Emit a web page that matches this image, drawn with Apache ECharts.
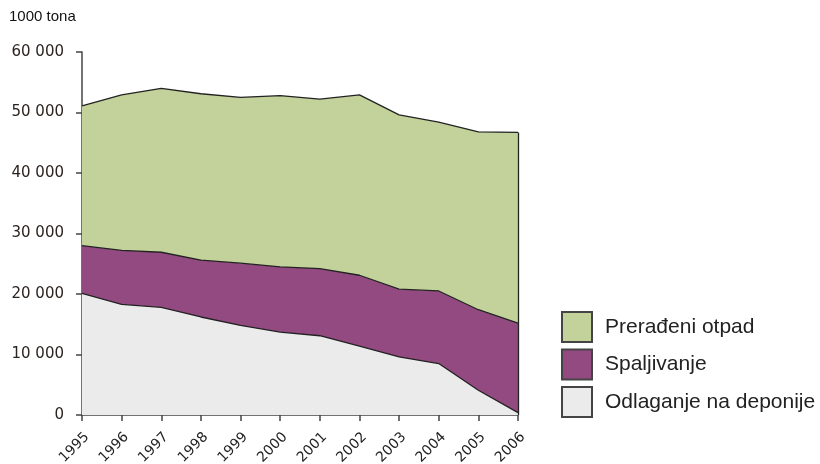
<!DOCTYPE html>
<html>
<head>
<meta charset="utf-8">
<script src="https://cdn.jsdelivr.net/npm/echarts@6/dist/echarts.min.js"></script>
<style>
  html, body { margin: 0; padding: 0; background: #fff; }
  #main { width: 820px; height: 464px; }
</style>
</head>
<body>
<div id="main"></div>
<script>
// godine i vrijednosti (1000 tona), ocitano sa slike
var years = ['1995', '1996', '1997', '1998', '1999', '2000', '2001', '2002', '2003', '2004', '2005', '2006'];
var odlaganje = [20100, 18300, 17800, 16200, 14800, 13700, 13100, 11400, 9600, 8500, 4100, 400];
var spaljivanje = [7900, 8900, 9100, 9400, 10300, 10800, 11100, 11700, 11200, 12000, 13300, 14800];
var preradjeni = [23100, 25700, 27100, 27500, 27400, 28300, 28000, 29800, 28800, 27900, 29400, 31500];
var yTicks = [0, 10000, 20000, 30000, 40000, 50000, 60000];

var names = ['Prerađeni otpad', 'Spaljivanje', 'Odlaganje na deponije'];
var colors = ['#c3d29a', '#924a80', '#ebebeb'];

function fmt (v) {
  return String(v).replace(/\B(?=(\d{3})+(?!\d))/g, ' ');
}

var last = years.length - 1;
var lastTotal = odlaganje[last] + spaljivanje[last] + preradjeni[last];

var myChart = echarts.init(document.getElementById('main'));

function areaSeries (name, data, color) {
  return {
    name: name,
    type: 'line',
    stack: 'total',
    data: data,
    showSymbol: false,
    symbol: 'none',
    lineStyle: { color: '#222', width: 1.3 },
    itemStyle: { color: color, borderColor: '#444', borderWidth: 1.5 },
    areaStyle: { color: color, opacity: 1 },
    emphasis: { disabled: true }
  };
}

var topSeries = areaSeries(names[0], preradjeni, colors[0]);
topSeries.markLine = {
  silent: true,
  symbol: 'none',
  label: { show: false },
  lineStyle: { color: '#222', width: 1.3, type: 'solid' },
  data: [[{ coord: [years[last], 0] }, { coord: [years[last], lastTotal] }]]
};

var option = {
  animation: false,
  textStyle: { fontFamily: 'DejaVu Sans' },
  title: {
    text: '1000 tona',
    left: 9,
    top: 9,
    padding: 0,
    textStyle: { fontFamily: 'Liberation Sans', fontSize: 15, fontWeight: 'normal', color: '#111' }
  },
  legend: {
    orient: 'vertical',
    left: 561,
    top: 311,
    padding: 0,
    itemWidth: 30,
    itemHeight: 30,
    itemGap: 5.5,
    icon: 'rect',
    data: names,
    selectedMode: false,
    textStyle: { fontFamily: 'Liberation Sans', fontSize: 21, color: '#222', padding: [0, 0, 0, 8] }
  },
  grid: { left: 82, right: 302, top: 52, bottom: 49, containLabel: false, outerBoundsMode: 'none' },
  xAxis: {
    type: 'category',
    data: years,
    boundaryGap: false,
    axisLine: { lineStyle: { color: '#444', width: 1.5 } },
    axisTick: { show: true, length: 6, alignWithLabel: true, lineStyle: { color: '#444', width: 1.5 } },
    axisLabel: { rotate: 45, fontSize: 14, color: '#222', margin: 15, verticalAlign: 'top', fontFamily: 'DejaVu Sans' },
    splitLine: { show: false }
  },
  yAxis: {
    type: 'value',
    min: yTicks[0],
    max: yTicks[yTicks.length - 1],
    interval: yTicks[1] - yTicks[0],
    axisLine: { show: true, lineStyle: { color: '#444', width: 1.5 } },
    axisTick: { show: true, length: 6, lineStyle: { color: '#444', width: 1.5 } },
    axisLabel: { formatter: fmt, fontSize: 15, color: '#2b2420', margin: 18, fontFamily: 'DejaVu Sans' },
    splitLine: { show: false }
  },
  series: [
    areaSeries(names[2], odlaganje, colors[2]),
    areaSeries(names[1], spaljivanje, colors[1]),
    topSeries
  ]
};

myChart.setOption(option);
</script>
</body>
</html>
